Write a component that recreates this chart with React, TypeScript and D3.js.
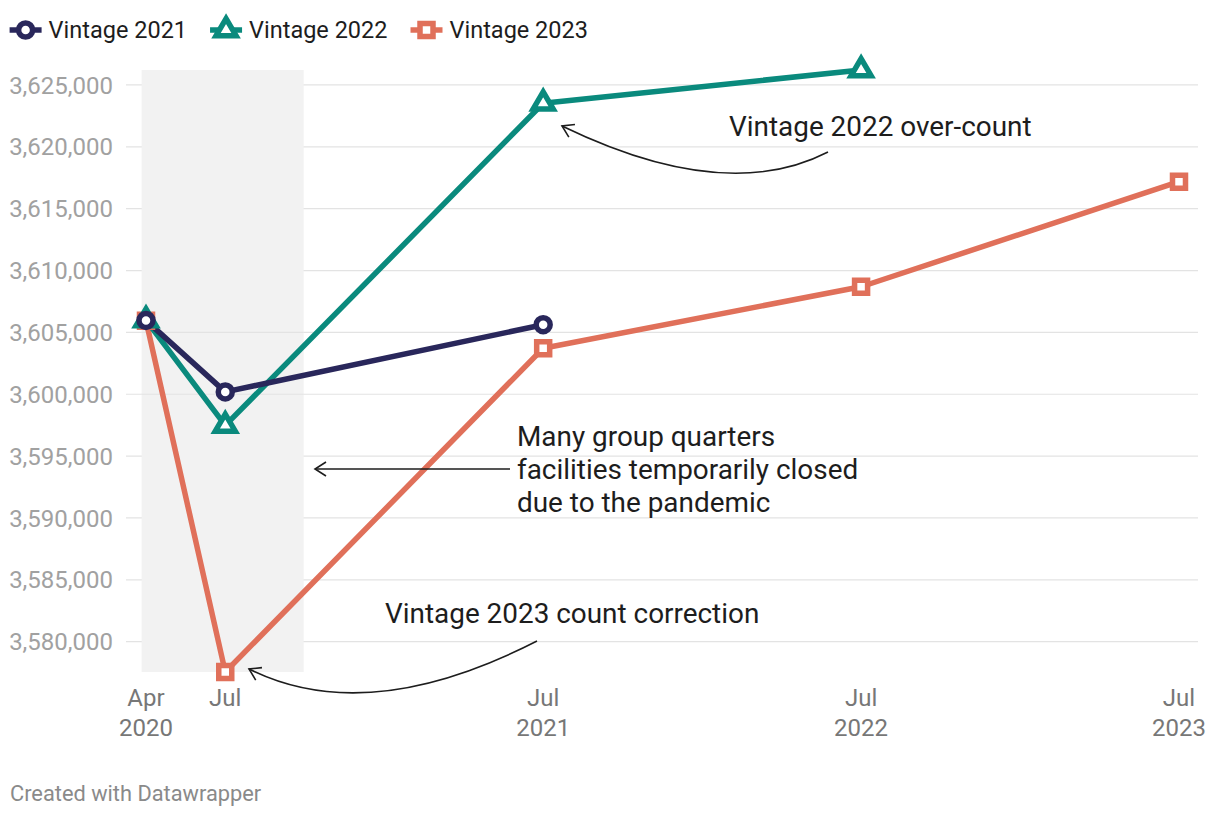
import React, { useEffect, useRef } from "react";
import * as d3 from "d3";

// ---------- data ----------
const dates = ["2020-04-01", "2020-07-01", "2021-07-01", "2022-07-01", "2023-07-01"];
const vintage2021: (number | null)[] = [3605970, 3600190, 3605620, null, null];
const vintage2022: (number | null)[] = [3605990, 3597480, 3623520, 3626210, null];
const vintage2023: (number | null)[] = [3605950, 3577550, 3603720, 3608690, 3617180];
const seriesNames = ["Vintage 2021", "Vintage 2022", "Vintage 2023"];
const seriesColors = ["#29275b", "#0a8a7d", "#e0705a"];
const seriesSymbols = ["circle", "triangle", "square"];
const yTicks = [3580000, 3585000, 3590000, 3595000, 3600000, 3605000, 3610000, 3615000, 3620000, 3625000];
const xTickDates = ["2020-04-01", "2020-07-01", "2021-07-01", "2022-07-01", "2023-07-01"];
const xTickLabels = [["Apr", "2020"], ["Jul"], ["Jul", "2021"], ["Jul", "2022"], ["Jul", "2023"]];
const highlightRange = ["2020-03-27", "2020-09-29"];
const footerText = "Created with Datawrapper";

const annotations = [
  { lines: ["Vintage 2022 over-count"], x: 729, y: 136 },
  { lines: ["Many group quarters", "facilities temporarily closed", "due to the pandemic"], x: 517, y: 446 },
  { lines: ["Vintage 2023 count correction"], x: 385, y: 623 },
];
const arrows = [
  "M828,152 Q725,205 562,126",
  "M510,469 L315,469",
  "M537,641 Q367,728 249,669",
];

const W = 1220;
const H = 818;
const FONT = "Roboto, 'Noto Sans', sans-serif";

export default function App() {
  const ref = useRef<SVGSVGElement>(null);

  useEffect(() => {
    const svg = d3.select(ref.current);
    svg.selectAll("*").remove();

    const parse = d3.utcParse("%Y-%m-%d");
    const x = d3.scaleUtc()
      .domain([parse(dates[0])!, parse(dates[dates.length - 1])!])
      .range([146, 1179]);
    const allVals = [...vintage2021, ...vintage2022, ...vintage2023].filter((v) => v != null) as number[];
    const y = d3.scaleLinear().domain(d3.extent(allVals) as [number, number]).range([672, 70]);

    svg.append("rect").attr("width", W).attr("height", H).attr("fill", "#fff");

    // grid + y labels
    const grid = svg.append("g");
    yTicks.forEach((t) => {
      grid.append("line")
        .attr("x1", 126).attr("x2", 1198)
        .attr("y1", y(t)).attr("y2", y(t))
        .attr("stroke", "#e3e3e3").attr("stroke-width", 1.2);
      svg.append("text")
        .attr("x", 113).attr("y", y(t)).attr("dy", "0.36em")
        .attr("text-anchor", "end")
        .attr("font-family", FONT).attr("font-size", 24)
        .attr("fill", "#a1a1a1")
        .text(d3.format(",")(t));
    });

    // highlight band
    const bx0 = x(parse(highlightRange[0])!);
    const bx1 = x(parse(highlightRange[1])!);
    svg.append("rect")
      .attr("x", bx0).attr("width", bx1 - bx0)
      .attr("y", y.range()[1]).attr("height", y.range()[0] - y.range()[1])
      .attr("fill", "#f2f2f2");
    [3600000, 3605000].forEach((t) => {
      svg.append("line")
        .attr("x1", bx0).attr("x2", bx1)
        .attr("y1", y(t)).attr("y2", y(t))
        .attr("stroke", "#e3e3e3").attr("stroke-width", 1.2);
    });

    // x labels
    xTickDates.forEach((d, i) => {
      const t = svg.append("text")
        .attr("x", x(parse(d)!)).attr("y", 706)
        .attr("text-anchor", "middle")
        .attr("font-family", FONT).attr("font-size", 24)
        .attr("fill", "#777");
      xTickLabels[i].forEach((s, j) => {
        t.append("tspan").attr("x", x(parse(d)!)).attr("y", 706 + j * 30).text(s);
      });
    });

    // series
    const series = [vintage2021, vintage2022, vintage2023];
    const order = [2, 1, 0];
    const symbolPath = (kind: string) => {
      if (kind === "triangle") return "M0,-11.3L10,5.7L-10,5.7Z";
      if (kind === "square") return "M-6.5,-6.5H6.5V6.5H-6.5Z";
      return "M7,0A7,7 0 1,1 -7,0A7,7 0 1,1 7,0Z";
    };
    order.forEach((si) => {
      const pts = series[si]
        .map((v, i) => ({ d: parse(dates[i])!, v }))
        .filter((p) => p.v != null) as { d: Date; v: number }[];
      const line = d3.line<{ d: Date; v: number }>().x((p) => x(p.d)).y((p) => y(p.v));
      svg.append("path")
        .attr("d", line(pts)!)
        .attr("fill", "none")
        .attr("stroke", seriesColors[si])
        .attr("stroke-width", 5.5)
        .attr("stroke-linejoin", "round");
    });
    order.forEach((si) => {
      series[si].forEach((v, i) => {
        if (v == null) return;
        svg.append("path")
          .attr("transform", `translate(${x(parse(dates[i])!)},${y(v)})`)
          .attr("d", symbolPath(seriesSymbols[si]))
          .attr("fill", "#fff")
          .attr("stroke", seriesColors[si])
          .attr("stroke-width", 5.5)
          .attr("stroke-linejoin", "miter");
      });
    });

    // legend
    let lx = 9.6;
    seriesNames.forEach((name, i) => {
      const g = svg.append("g").attr("transform", `translate(${lx},30)`);
      g.append("line").attr("x1", 0).attr("x2", 32).attr("y1", 0).attr("y2", 0)
        .attr("stroke", seriesColors[i]).attr("stroke-width", 5.5);
      g.append("path").attr("transform", "translate(16,0)")
        .attr("d", symbolPath(seriesSymbols[i]))
        .attr("fill", "#fff").attr("stroke", seriesColors[i]).attr("stroke-width", 5.5);
      const t = g.append("text").attr("x", 39).attr("y", 8)
        .attr("font-family", FONT).attr("font-size", 23.5).attr("fill", "#1d1d1d").text(name);
      const w = (t.node() as SVGTextElement).getComputedTextLength();
      lx += 39 + w + 23;
    });

    // annotations
    annotations.forEach((a) => {
      a.lines.forEach((s, j) => {
        svg.append("text")
          .attr("x", a.x).attr("y", a.y + j * 33)
          .attr("font-family", FONT).attr("font-size", 27.9)
          .attr("fill", "#1d1d1d").text(s);
      });
    });
    const defs = svg.append("defs");
    defs.append("marker").attr("id", "arr").attr("viewBox", "-12 -8 14 16")
      .attr("markerWidth", 14).attr("markerHeight", 16).attr("refX", 0).attr("refY", 0)
      .attr("orient", "auto").attr("markerUnits", "userSpaceOnUse")
      .append("path").attr("d", "M-11,-7 L0,0 L-11,7").attr("fill", "none")
      .attr("stroke", "#1d1d1d").attr("stroke-width", 1.6);
    arrows.forEach((d) => {
      svg.append("path").attr("d", d).attr("fill", "none")
        .attr("stroke", "#1d1d1d").attr("stroke-width", 1.6).attr("marker-end", "url(#arr)");
    });

    svg.append("text").attr("x", 10).attr("y", 801)
      .attr("font-family", FONT).attr("font-size", 21.8).attr("fill", "#8a8a8a").text(footerText);
  }, []);

  return (
    <svg ref={ref} width={W} height={H} style={{ position: "absolute", left: 0, top: 0, display: "block" }} />
  );
}
